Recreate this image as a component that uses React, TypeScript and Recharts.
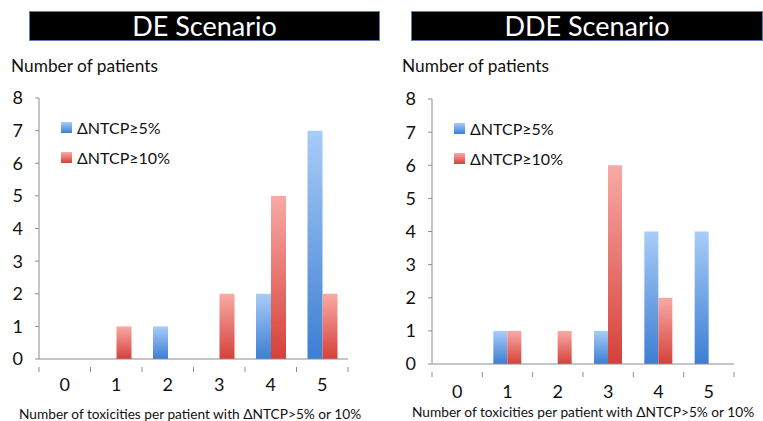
import { Bar, BarChart, XAxis, YAxis } from "recharts";

const categories = ["0", "1", "2", "3", "4", "5"];
const yTicks = [0, 1, 2, 3, 4, 5, 6, 7, 8];

const deNtcp5 = [0, 0, 1, 0, 2, 7];
const deNtcp10 = [0, 1, 0, 2, 5, 2];
const ddeNtcp5 = [0, 1, 0, 1, 4, 4];
const ddeNtcp10 = [0, 1, 1, 6, 2, 0];

const seriesNames = ["ΔNTCP≥5%", "ΔNTCP≥10%"];
const xTitle = "Number of toxicities per patient with ΔNTCP>5% or 10%";
const yTitle = "Number of patients";

const FONT = "Lato, 'Open Sans', sans-serif";
const AXIS = "#8c8c8c";

function buildRows(a: number[], b: number[]) {
  return categories.map((c, i) => ({ cat: c, p5: a[i], p10: b[i] }));
}

function XTick(props: any) {
  const { x, y, payload, index, labelDy } = props;
  const half = payload.offset || 25;
  return (
    <g>
      <line x1={x - half} y1={y} x2={x - half} y2={y + 5} stroke={AXIS} />
      {index === categories.length - 1 && (
        <line x1={x + half} y1={y} x2={x + half} y2={y + 5} stroke={AXIS} />
      )}
      <text x={x} y={y + labelDy} textAnchor="middle" fontSize={18} fill="#111" fontFamily={FONT}>
        {payload.value}
      </text>
    </g>
  );
}

function LegendBox({ gid }: { gid: string }) {
  return (
    <div style={{ fontFamily: FONT, fontSize: 16, color: "#111" }}>
      {seriesNames.map((name, i) => (
        <div key={name} style={{ display: "flex", alignItems: "center", height: 30 }}>
          <svg width={11} height={11} style={{ marginRight: 5 }}>
            <rect width={11} height={11} fill={`url(#${gid}${i === 0 ? "b" : "r"})`} />
          </svg>
          {name}
        </div>
      ))}
    </div>
  );
}

interface PanelProps {
  gid: string;
  title: string;
  rows: { cat: string; p5: number; p10: number }[];
  left: number;
  width: number;
  boxLeft: number;
  boxWidth: number;
  margin: { top: number; right: number; bottom: number; left: number };
  labelDy: number;
  yTitleLeft: number;
  xTitleTop: number;
}

function Panel(p: PanelProps) {
  const plotLeft = p.margin.left + 30;
  return (
    <div style={{ position: "absolute", left: p.left, top: 0, width: p.width, height: 421 }}>
      <div
        style={{
          position: "absolute",
          left: p.boxLeft,
          top: 11,
          width: p.boxWidth,
          height: 30,
          boxSizing: "border-box",
          background: "#000",
          border: "1px solid #5d7fb0",
          color: "#fff",
          fontFamily: FONT,
          fontSize: 27,
          lineHeight: "28px",
          textAlign: "center",
        }}
      >
        {p.title}
      </div>
      <div
        style={{
          position: "absolute",
          left: p.yTitleLeft,
          top: 55,
          fontFamily: FONT,
          fontSize: 17.3,
          color: "#111",
          whiteSpace: "nowrap",
        }}
      >
        {yTitle}
      </div>
      <BarChart
        width={p.width}
        height={421}
        data={p.rows}
        margin={p.margin}
        barCategoryGap={11}
        barGap={0}
        style={{ position: "absolute", left: 0, top: 0 }}
      >
        <defs>
          <linearGradient id={`${p.gid}b`} x1="0" y1="0" x2="0" y2="1">
            <stop offset="0%" stopColor="#a9ccf8" />
            <stop offset="100%" stopColor="#3c7ed3" />
          </linearGradient>
          <linearGradient id={`${p.gid}r`} x1="0" y1="0" x2="0" y2="1">
            <stop offset="0%" stopColor="#f8aaa5" />
            <stop offset="100%" stopColor="#d6403a" />
          </linearGradient>
        </defs>
        <XAxis
          dataKey="cat"
          height={30}
          stroke={AXIS}
          tickLine={false}
          tick={<XTick labelDy={p.labelDy} />}
          interval={0}
        />
        <YAxis
          domain={[0, 8]}
          ticks={yTicks}
          width={30}
          stroke={AXIS}
          tickSize={4}
          tickMargin={12}
          interval={0}
          tick={{ fontSize: 18, fill: "#111", fontFamily: FONT }}
        />
        <Bar dataKey="p5" name={seriesNames[0]} fill={`url(#${p.gid}b)`} isAnimationActive={false} />
        <Bar dataKey="p10" name={seriesNames[1]} fill={`url(#${p.gid}r)`} isAnimationActive={false} />
      </BarChart>
      <div style={{ position: "absolute", left: plotLeft + 22, top: p.margin.top + 14 }}>
        <LegendBox gid={p.gid} />
      </div>
      <div
        style={{
          position: "absolute",
          left: plotLeft - 20,
          width: p.width - plotLeft - p.margin.right + 30,
          top: p.xTitleTop,
          textAlign: "center",
          fontFamily: FONT,
          fontSize: 13.7,
          color: "#111",
          whiteSpace: "nowrap",
        }}
      >
        {xTitle}
      </div>
    </div>
  );
}

export default function App() {
  return (
    <div style={{ position: "absolute", left: 0, top: 0, width: 763, height: 421, background: "#fff", overflow: "hidden" }}>
      <Panel
        gid="de"
        title="DE Scenario"
        rows={buildRows(deNtcp5, deNtcp10)}
        left={0}
        width={380}
        boxLeft={29}
        boxWidth={351}
        margin={{ top: 98, right: 32, bottom: 32, left: 9 }}
        labelDy={24}
        yTitleLeft={11}
        xTitleTop={405}
      />
      <Panel
        gid="dde"
        title="DDE Scenario"
        rows={buildRows(ddeNtcp5, ddeNtcp10)}
        left={380}
        width={383}
        boxLeft={31}
        boxWidth={352}
        margin={{ top: 99, right: 29, bottom: 27, left: 22 }}
        labelDy={26}
        yTitleLeft={22}
        xTitleTop={403}
      />
    </div>
  );
}
